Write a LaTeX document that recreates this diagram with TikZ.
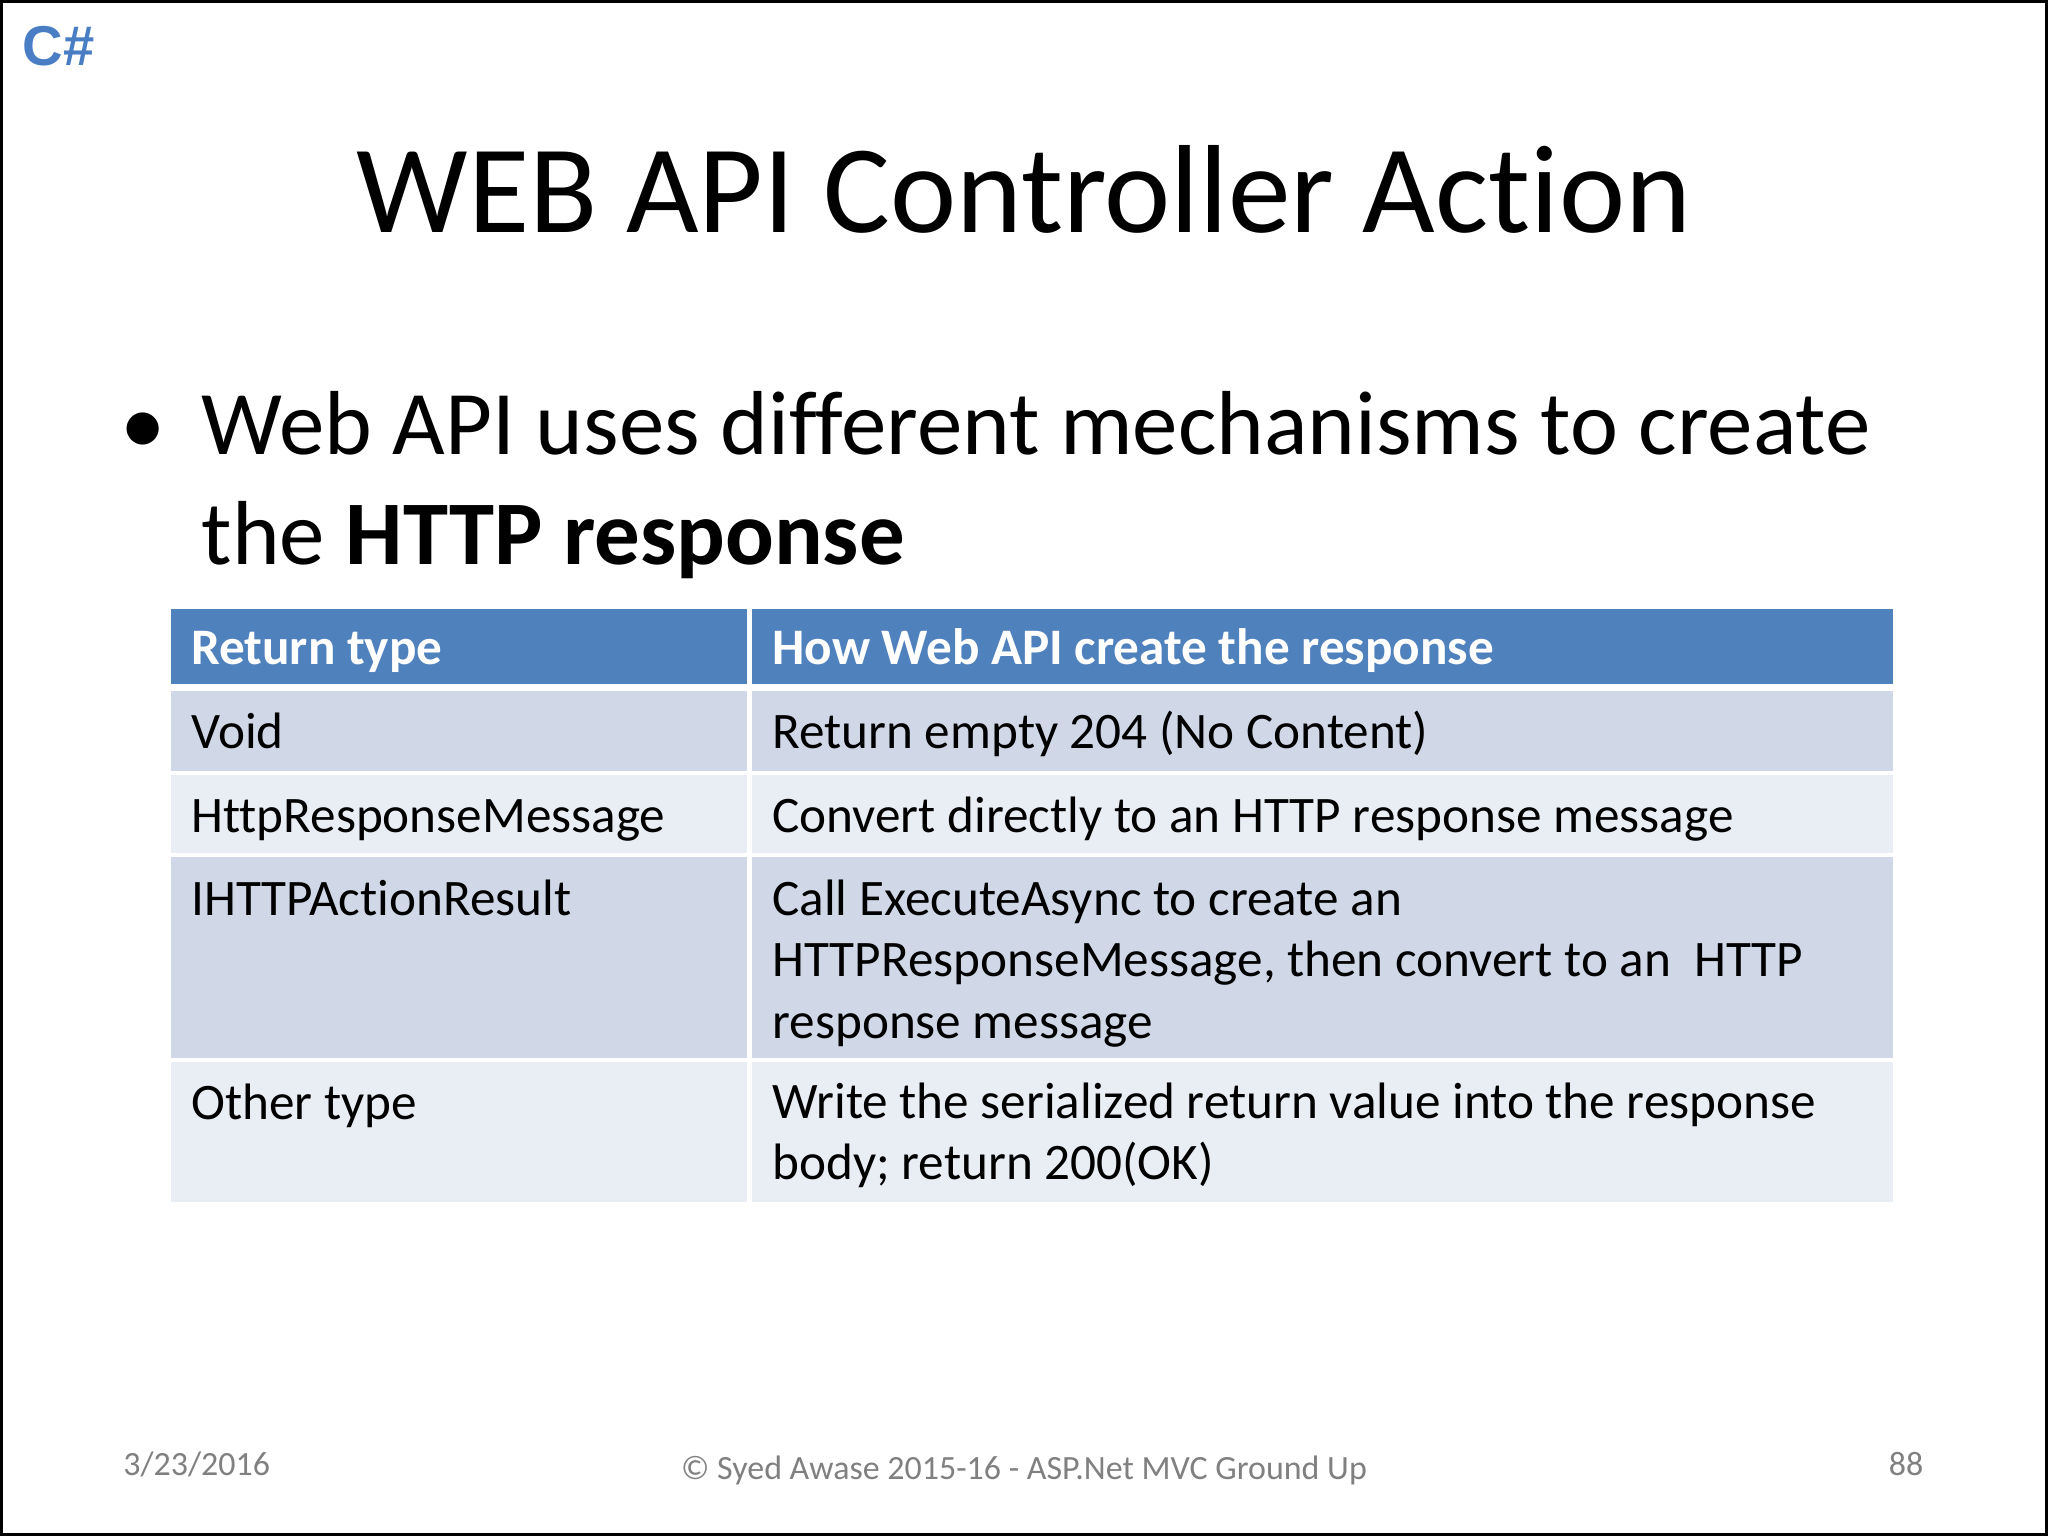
\documentclass[tikz,border=0pt]{standalone}
\usepackage{fontspec}
\setmainfont[Ligatures=CommonOff]{Carlito}
\newfontfamily\csfont{Liberation Sans}
\definecolor{hdr}{HTML}{4F81BD}
\definecolor{rowa}{HTML}{D0D8E8}
\definecolor{rowb}{HTML}{E9EDF4}
\definecolor{csb}{HTML}{4A7EC4}
\begin{document}
\begin{tikzpicture}[x=0.5pt,y=-0.5pt,
  tt/.style={anchor=base west,inner sep=0pt,font=\fontsize{19.6}{23.5}\selectfont,align=left},
  foot/.style={inner sep=0pt,anchor=base,font=\fontsize{13}{14}\selectfont,text=gray}]
\useasboundingbox (0,0) rectangle (1568,1176);
\draw[black,line width=1.5pt] (1,1) rectangle (1567,1175);
\node[anchor=base west,inner sep=0pt,font=\csfont\bfseries\fontsize{21.5}{21.5}\selectfont,text=csb] (cs) at (17,50) {C\#};
\node[anchor=base,inner sep=0pt,font=\fontsize{48}{48}\selectfont] (title) at (784,178) {WEB API Controller Action};
\node[anchor=base west,inner sep=0pt,font=\fontsize{34.8}{34.8}\selectfont] (bul) at (92,348) {•};
\node[anchor=base west,inner sep=0pt,font=\fontsize{34.8}{42}\selectfont,align=left] (b1) at (154,432) {Web API uses different mechanisms to create\\the \textbf{HTTP response}};
% table cells
\fill[hdr] (131,466) rectangle (572,524);
\fill[hdr] (576,466) rectangle (1449,524);
\foreach \ya/\yb/\c in {529/590/rowa,593/653/rowb,656/810/rowa,813/920/rowb}{
  \fill[\c] (131,\ya) rectangle (572,\yb);
  \fill[\c] (576,\ya) rectangle (1449,\yb);
}
\node[tt,text=white,font=\bfseries\fontsize{19.6}{23.5}\selectfont] (h1) at (146,509) {Return type};
\node[tt,text=white,font=\bfseries\fontsize{19.6}{23.5}\selectfont] (h2) at (591,509) {How Web API create the response};
\node[tt] (a1) at (146,573) {Void};
\node[tt] (b1r) at (591,573) {Return empty 204 (No Content)};
\node[tt] (a2) at (146,637) {HttpResponseMessage};
\node[tt] (b2) at (591,637) {Convert directly to an HTTP response message};
\node[tt] (a3) at (146,701) {IHTTPActionResult};
\node[tt] (b3) at (591,795) {Call ExecuteAsync to create an\\HTTPResponseMessage, then convert to an\ \ HTTP\\response message};
\node[tt] (a4) at (146,857) {Other type};
\node[tt] (b4) at (591,903) {Write the serialized return value into the response\\body; return 200(OK)};
\node[foot,anchor=base west] (d) at (94,1130) {3/23/2016};
\node[foot] (f) at (784,1133) {© Syed Awase 2015-16 - ASP.Net MVC Ground Up};
\node[foot,anchor=base east] (p) at (1473,1130) {88};
\end{tikzpicture}
\end{document}
